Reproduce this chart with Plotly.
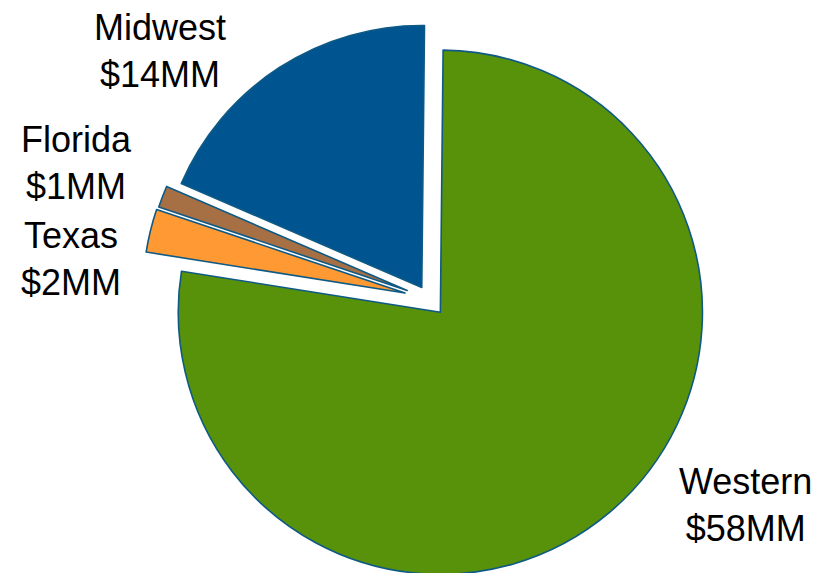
import plotly.graph_objects as go

# Data
regions = ["Western", "Texas", "Florida", "Midwest"]
values_mm = [58, 2, 1, 14]
colors = ["#58910A", "#FF9933", "#A66F44", "#00548F"]
pulls = [0.066, 0.095, 0.09, 0.052]

labels_text = [f"{r}<br>${v}MM" for r, v in zip(regions, values_mm)]

W, H = 828, 586
TOP = 12

fig = go.Figure(
    go.Pie(
        labels=regions,
        values=values_mm,
        sort=False,
        direction="clockwise",
        rotation=0.6,
        pull=pulls,
        marker=dict(colors=colors, line=dict(color="#0E5A85", width=1.6)),
        textinfo="none",
        hoverinfo="label+value",
        showlegend=False,
        domain=dict(x=[0.0367, 1.0], y=[0.0, 1.0]),
    )
)

# label placement (pixel centres converted to paper coordinates)
label_px = {"Western": (745, 505), "Midwest": (159.5, 51), "Florida": (76.5, 163), "Texas": (71, 259)}


def to_paper(px, py):
    return px / W, 1 - (py - TOP) / (H - TOP)


for r, txt in zip(regions, labels_text):
    x, y = to_paper(*label_px[r])
    fig.add_annotation(
        x=x, y=y, xref="paper", yref="paper", text=txt, showarrow=False,
        xanchor="center", yanchor="middle", align="center",
        font=dict(family="Liberation Sans, Arial, sans-serif", size=36, color="#000000"),
    )

fig.update_layout(
    width=W, height=H,
    margin=dict(l=0, r=0, t=TOP, b=0, pad=0),
    paper_bgcolor="white", plot_bgcolor="white",
)

fig.write_html(
    "out.html",
    post_script="document.documentElement.style.overflow='hidden';document.body.style.overflow='hidden';",
)
